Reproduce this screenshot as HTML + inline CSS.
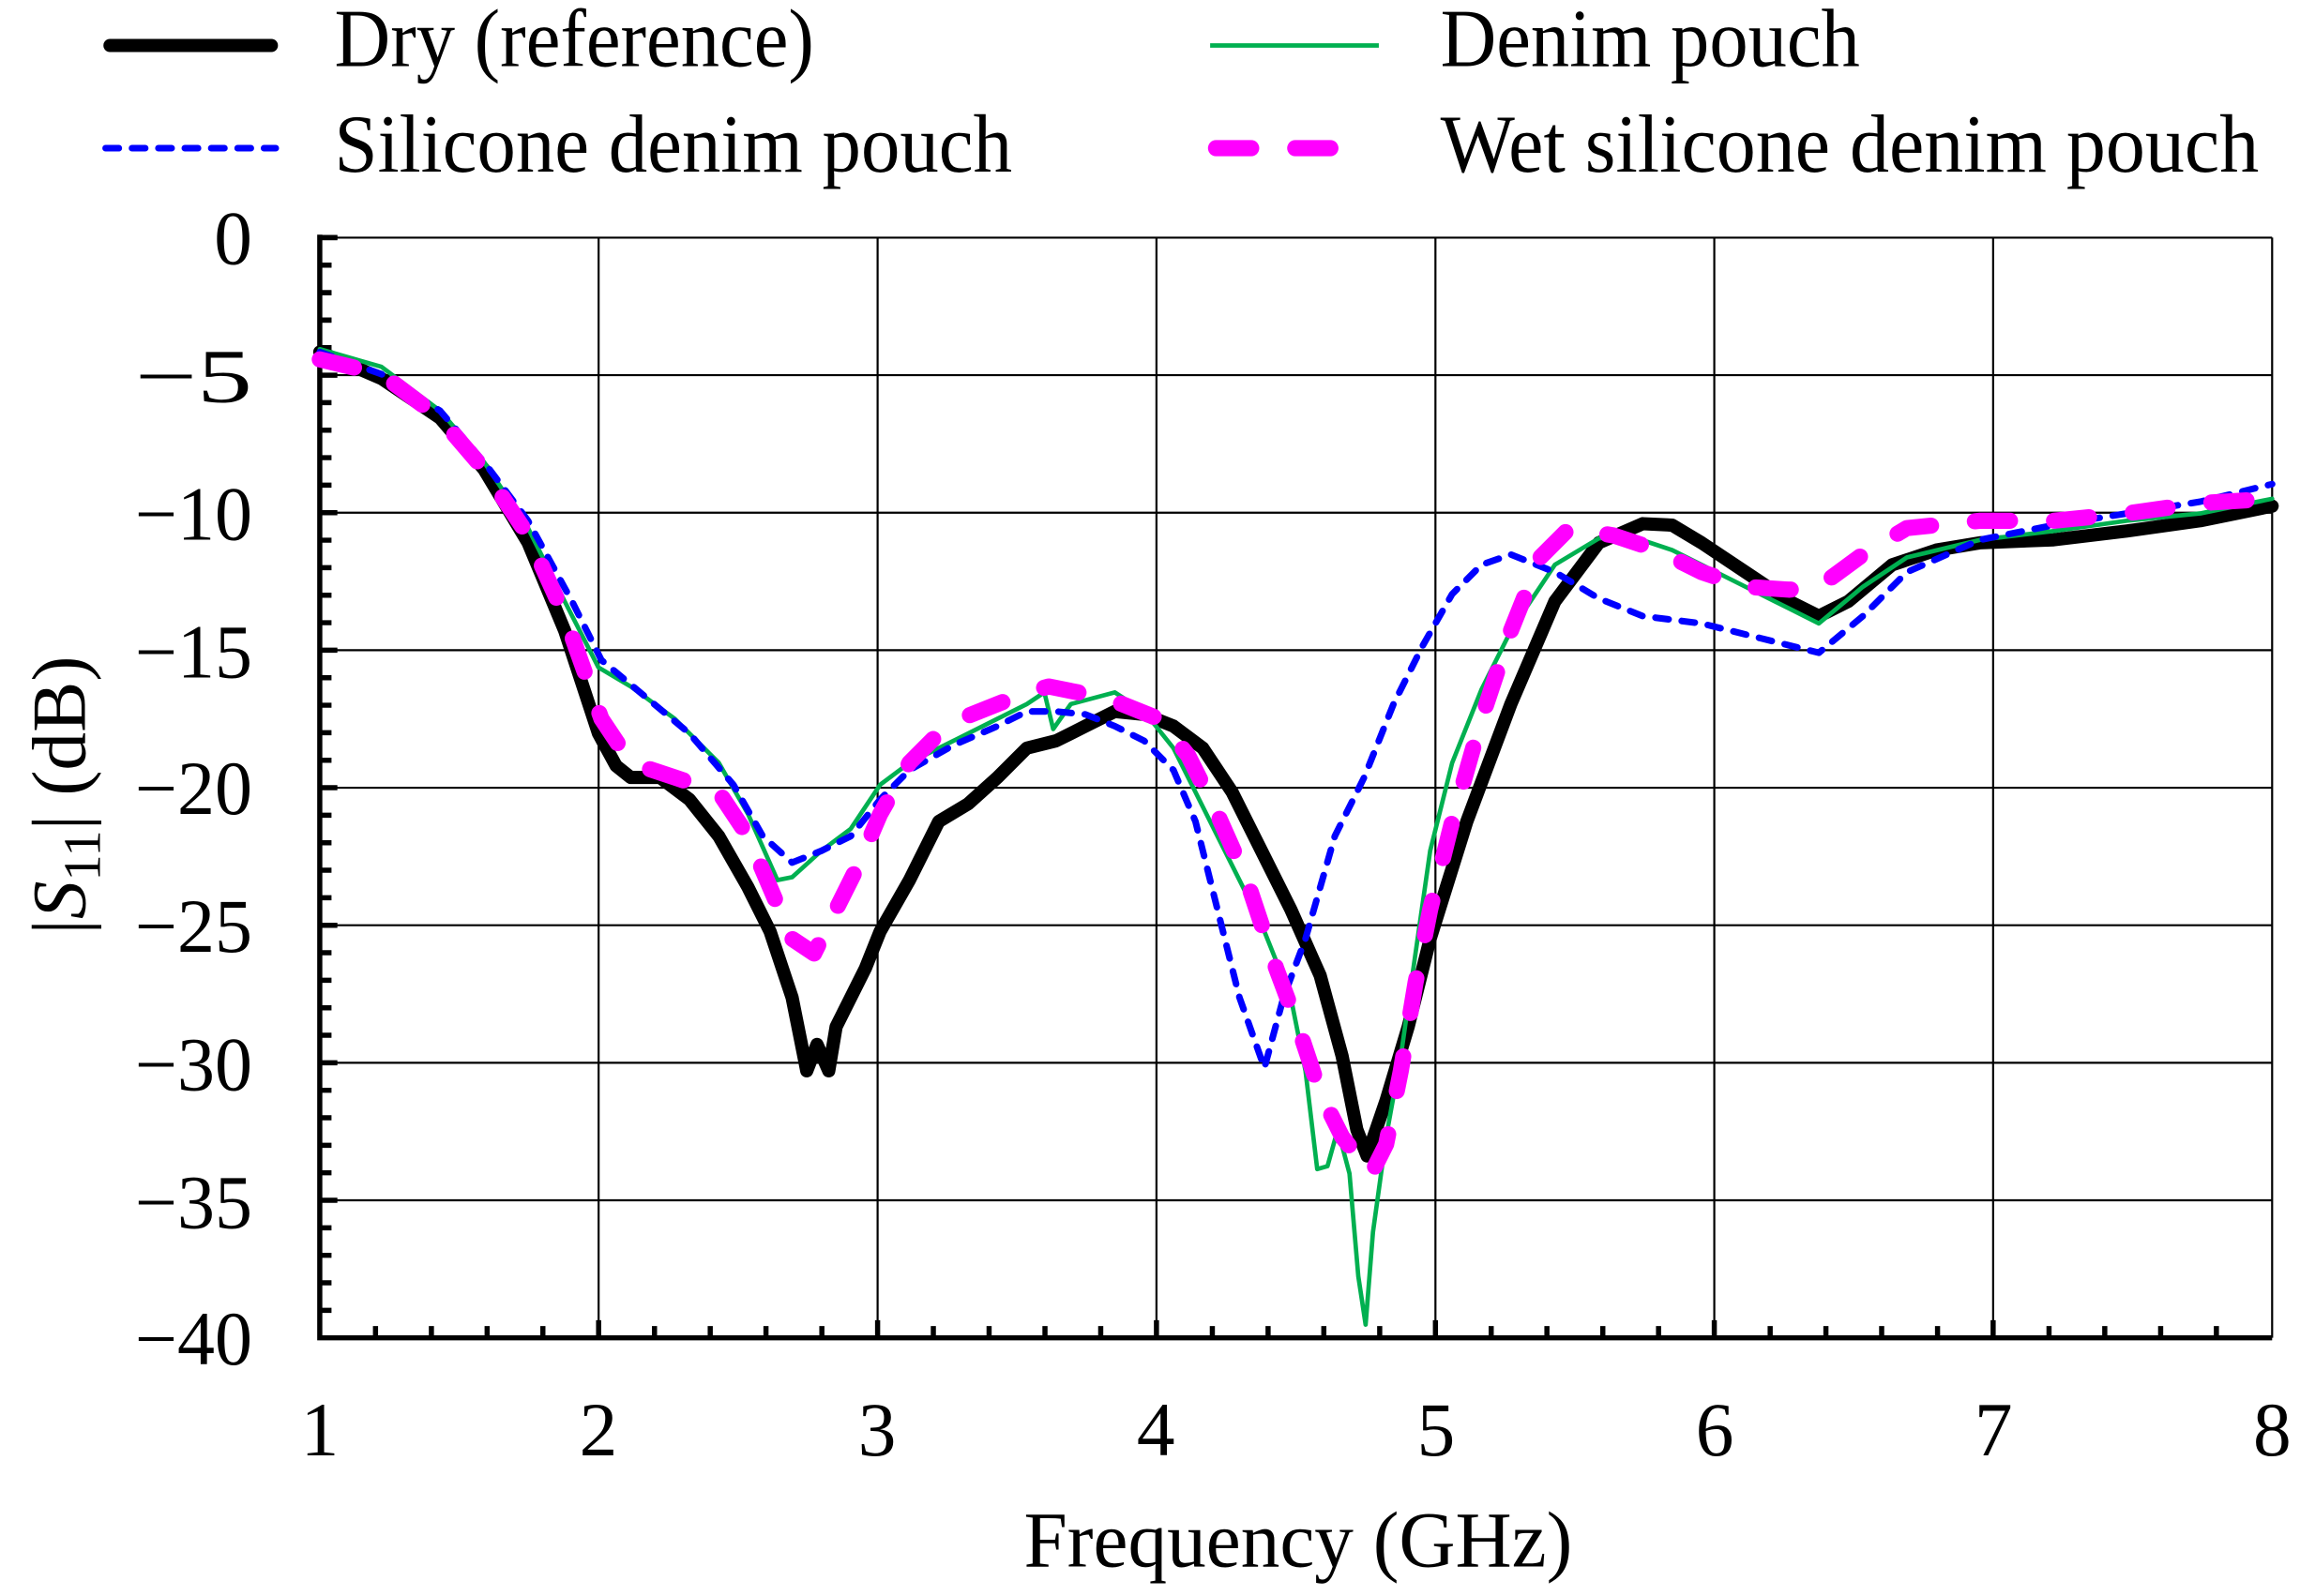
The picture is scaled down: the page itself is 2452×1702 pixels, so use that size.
<!DOCTYPE html>
<html><head><meta charset="utf-8"><style>html,body{margin:0;padding:0;background:#fff}svg{display:block}</style></head>
<body>
<svg width="2452" height="1702" viewBox="0 0 1568 1088" preserveAspectRatio="none" xmlns="http://www.w3.org/2000/svg" font-family="Liberation Serif, serif">
<rect width="1568" height="1088" fill="#fff"/>
<g stroke="#000" stroke-width="1.4" fill="none">
<path d="M408.1 162V912M598.3 162V912M788.4 162V912M978.6 162V912M1168.7 162V912M1358.8 162V912M1549 162V912"/>
<path d="M218 162H1549M218 255.75H1549M218 349.5H1549M218 443.25H1549M218 537H1549M218 630.75H1549M218 724.5H1549M218 818.25H1549"/>
</g>
<g stroke="#000" stroke-width="3.5" fill="none">
<path id="yt" d="M218 162h12M218 180.75h8M218 199.5h8M218 218.25h8M218 237h8"/>
</g>
<g stroke="#000" stroke-width="3.5" fill="none">
<path d="M218 162h12M218 255.75h12M218 349.5h12M218 443.25h12M218 537h12M218 630.75h12M218 724.5h12M218 818.25h12"/>
<path d="M218 180.75h8M218 199.5h8M218 218.25h8M218 237h8M218 274.5h8M218 293.25h8M218 312h8M218 330.75h8M218 368.25h8M218 387h8M218 405.75h8M218 424.5h8M218 462h8M218 480.75h8M218 499.5h8M218 518.25h8M218 555.75h8M218 574.5h8M218 593.25h8M218 612h8M218 649.5h8M218 668.25h8M218 687h8M218 705.75h8M218 743.25h8M218 762h8M218 780.75h8M218 799.5h8M218 837h8M218 855.75h8M218 874.5h8M218 893.25h8"/>
<path d="M256 912v-8M294.1 912v-8M332.1 912v-8M370.1 912v-8M408.1 912v-12M446.2 912v-8M484.2 912v-8M522.2 912v-8M560.3 912v-8M598.3 912v-12M636.3 912v-8M674.3 912v-8M712.4 912v-8M750.4 912v-8M788.4 912v-12M826.5 912v-8M864.5 912v-8M902.5 912v-8M940.6 912v-8M978.6 912v-12M1016.6 912v-8M1054.6 912v-8M1092.7 912v-8M1130.7 912v-8M1168.7 912v-12M1206.8 912v-8M1244.8 912v-8M1282.8 912v-8M1320.9 912v-8M1358.8 912v-12M1396.9 912v-8M1434.9 912v-8M1473 912v-8M1511 912v-8"/>
</g>
<path d="M218 160V912H1549" stroke="#000" stroke-width="3.5" fill="none"/>
<g fill="none" stroke-linecap="round" stroke-linejoin="round">
<polyline stroke="#000" stroke-width="9" points="218,240 260,258 300,285 330,320 360,370 385,430 408,500 420,522 430,530 450,530 470,545 490,570 510,605 525,635 540,680 546,710 550,730 557,712 565,730 570,700 575,690 590,660 600,635 620,600 640,560 660,548 680,530 700,510 720,505 740,495 760,485 780,487 800,495 820,510 840,540 860,580 880,620 900,665 915,720 925,770 932,788 945,750 960,700 975,640 1000,560 1030,480 1060,410 1090,370 1120,357 1140,358 1160,370 1190,390 1220,410 1240,420 1260,410 1290,385 1320,375 1350,370 1400,368 1450,362 1500,355 1549,345"/>
<polyline stroke="#00b050" stroke-width="3" points="218,238 260,250 300,280 330,315 360,360 385,410 408,455 430,468 460,490 490,520 510,555 530,600 540,598 560,580 580,565 600,535 620,520 650,505 680,490 700,480 712,472 718,497 730,480 760,472 780,485 800,510 820,550 840,590 860,630 880,680 890,730 898,797 905,795 912,770 920,800 926,870 931,903 936,840 945,775 955,720 965,650 975,580 990,520 1010,470 1030,430 1060,385 1090,367 1110,365 1140,375 1180,395 1210,410 1240,425 1270,400 1300,380 1350,368 1400,362 1450,355 1500,350 1549,340"/>
<polyline stroke="#0000ff" stroke-width="4.5" stroke-dasharray="9 9" points="218,240 260,255 300,280 330,315 360,355 390,410 410,450 440,475 470,500 500,535 520,570 540,588 560,580 580,570 600,545 620,525 650,508 680,495 700,485 720,485 740,487 760,495 780,505 800,525 815,560 830,620 845,680 862,728 875,680 890,640 910,570 930,530 950,480 970,440 990,405 1010,385 1030,378 1060,390 1090,408 1120,420 1160,425 1200,435 1240,445 1270,420 1300,390 1350,368 1400,358 1450,350 1500,342 1549,330"/>
<polyline stroke="#ff00ff" stroke-width="11" stroke-dasharray="24 30" points="218,245 260,255 300,285 330,320 360,365 385,420 410,490 430,520 460,530 490,540 510,570 525,605 540,640 555,650 570,620 585,590 600,555 620,520 640,500 660,488 680,480 700,472 715,468 735,472 760,478 790,490 810,515 830,555 850,600 870,660 885,700 900,745 915,775 935,800 945,780 955,730 965,670 975,620 990,560 1010,490 1030,430 1050,380 1070,360 1100,365 1130,375 1160,390 1190,400 1220,402 1240,400 1270,378 1300,360 1350,355 1400,355 1450,350 1500,343 1549,340"/>
</g>
<g font-size="52" fill="#000" text-anchor="end">
<text x="172" y="180">0</text>
<text x="172" y="274" textLength="80" lengthAdjust="spacingAndGlyphs">−5</text>
<text x="172" y="368" textLength="80" lengthAdjust="spacingAndGlyphs">−10</text>
<text x="172" y="462" textLength="80" lengthAdjust="spacingAndGlyphs">−15</text>
<text x="172" y="555" textLength="80" lengthAdjust="spacingAndGlyphs">−20</text>
<text x="172" y="649" textLength="80" lengthAdjust="spacingAndGlyphs">−25</text>
<text x="172" y="743" textLength="80" lengthAdjust="spacingAndGlyphs">−30</text>
<text x="172" y="837" textLength="80" lengthAdjust="spacingAndGlyphs">−35</text>
<text x="172" y="930" textLength="80" lengthAdjust="spacingAndGlyphs">−40</text>
</g>
<g font-size="52" fill="#000" text-anchor="middle">
<text x="218" y="992">1</text><text x="408" y="992">2</text><text x="598" y="992">3</text><text x="788" y="992">4</text><text x="979" y="992">5</text><text x="1169" y="992">6</text><text x="1359" y="992">7</text><text x="1549" y="992">8</text>
</g>
<text x="698" y="1068" font-size="54" textLength="374" lengthAdjust="spacingAndGlyphs">Frequency (GHz)</text>
<text transform="translate(58,637) rotate(-90)" font-size="52">|<tspan font-style="italic">S</tspan><tspan font-size="36" dy="10">11</tspan><tspan dy="-10">| (dB)</tspan></text>
<g font-size="56" fill="#000">
<line x1="75" y1="31" x2="185" y2="31" stroke="#000" stroke-width="9" stroke-linecap="round"/>
<text x="228" y="45" textLength="327" lengthAdjust="spacingAndGlyphs">Dry (reference)</text>
<line x1="72" y1="101" x2="188" y2="101" stroke="#0000ff" stroke-width="4.5" stroke-dasharray="9 9" stroke-linecap="round"/>
<text x="228" y="117" textLength="462" lengthAdjust="spacingAndGlyphs">Silicone denim pouch</text>
<line x1="825" y1="31" x2="940" y2="31" stroke="#00b050" stroke-width="3"/>
<text x="982" y="45" textLength="286" lengthAdjust="spacingAndGlyphs">Denim pouch</text>
<line x1="829" y1="101" x2="936" y2="101" stroke="#ff00ff" stroke-width="11" stroke-dasharray="24 30" stroke-linecap="round"/>
<text x="982" y="117" textLength="558" lengthAdjust="spacingAndGlyphs">Wet silicone denim pouch</text>
</g>
</svg>
</body></html>
